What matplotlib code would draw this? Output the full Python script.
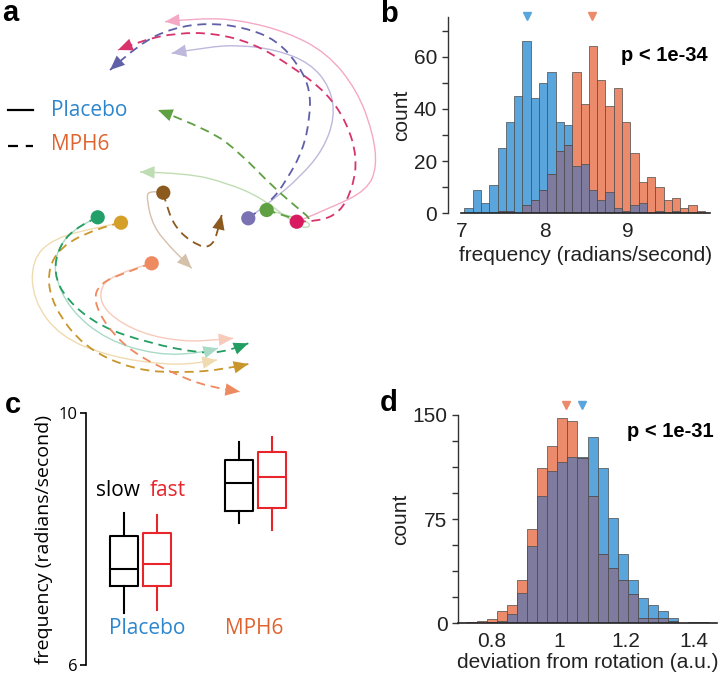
import numpy as np
import matplotlib
matplotlib.use("Agg")
import matplotlib.pyplot as plt
from matplotlib.path import Path
from matplotlib.patches import PathPatch

# ---------------- data ----------------
# panel b: frequency histograms (bins of 0.1 starting at 7.035)
b_bin_start = 7.035
b_bin_width = 0.1
b_placebo = [2, 9, 4, 11, 25, 35, 45, 66, 44, 50, 54, 35, 34, 18, 19, 9, 5, 8, 2, 1, 3, 4, 0, 1, 0, 1, 0, 0, 0]
b_mph6 = [0, 0, 0, 0, 1, 1, 0, 3, 5, 9, 15, 24, 26, 54, 42, 64, 51, 41, 48, 35, 23, 12, 14, 10, 5, 6, 2, 3, 1]
b_median_placebo = 7.79
b_median_mph6 = 8.57
b_ptext = "p < 1e-34"

# panel d: deviation histograms (bins of 0.03 starting at 0.725)
d_bin_start = 0.725
d_bin_width = 0.03
d_placebo = [0, 0, 1, 2, 7, 22, 56, 92, 110, 116, 120, 120, 134, 112, 76, 50, 31, 18, 13, 9, 4, 0, 0, 1]
d_mph6 = [1, 2, 3, 9, 13, 31, 68, 112, 128, 148, 146, 119, 92, 50, 40, 31, 21, 4, 4, 4, 2, 0, 1, 0]
d_median_placebo = 1.07
d_median_mph6 = 1.021
d_ptext = "p < 1e-31"

# panel c: box plot stats (whislo, q1, med, q3, whishi)
c_groups = ["Placebo", "MPH6"]
c_slow = [[6.82, 7.26, 7.52, 8.05, 8.42], [8.26, 8.44, 8.89, 9.26, 9.54]]
c_fast = [[6.88, 7.26, 7.60, 8.10, 8.39], [8.14, 8.50, 8.98, 9.38, 9.62]]

# panel a: trajectories in projected state space (start dot first, arrow tip last)
pink_placebo = [(296.7, 221.7), (333, 207), (367, 190), (377, 167), (373, 133), (357, 90), (327, 53), (287, 32), (240, 20), (200, 18), (165, 21.7)]
crimson_mph6 = [(296.7, 221.7), (316.7, 221.7), (340, 213), (353, 187), (357, 157), (347, 123), (327, 93), (293, 67), (253, 43), (213, 33), (177, 33), (143, 40), (118, 50)]
lavender_placebo = [(248.3, 218.3), (273, 200), (300, 177), (323, 150), (335, 117), (330, 87), (310, 63), (277, 50), (240, 45), (207, 47), (171.7, 53.3)]
slate_mph6 = [(248.3, 218.3), (270, 203), (286.7, 180), (303, 150), (310, 117), (310, 90), (300, 67), (277, 40), (243, 27), (207, 23), (173, 28), (140, 43), (110, 70)]
lightgreen_placebo = [(266.7, 210), (295, 217), (312, 224), (305, 229), (290, 220), (260, 197), (227, 183), (187, 173), (140, 172)]
green_mph6 = [(266.7, 210), (286.7, 216.7), (306.7, 221.7), (310, 218.3), (300, 210), (273, 187), (240, 153), (210, 130), (158, 110)]
lightbrown_placebo = [(163.3, 192.7), (148.3, 190), (146.7, 200), (153.3, 226.7), (170, 246.7), (180, 256.7), (191.7, 268.3)]
brown_mph6 = [(163.3, 192.7), (168.3, 213.3), (180, 233.3), (200, 246.7), (210, 246.7), (216.7, 236.7), (221.7, 215)]
lightteal_placebo = [(97.7, 217.3), (76.7, 226.7), (58.3, 246.7), (53.3, 273.3), (70, 310), (106.7, 340), (156.7, 355), (200, 353.3), (218, 348.3)]
teal_mph6 = [(97.7, 217.3), (80, 225), (60, 243.3), (53.3, 273.3), (66.7, 300), (100, 326.7), (150, 343.3), (200, 353.3), (226.7, 351.7), (248.3, 343.3)]
lightgold_placebo = [(121, 222.7), (100, 226.7), (53.3, 238.3), (31.7, 260), (33, 300), (60, 336.7), (110, 356.7), (166.7, 365), (200, 363), (217, 360)]
gold_mph6 = [(121, 222.7), (96.7, 228.3), (60, 246.7), (46.7, 273.3), (53.3, 306.7), (83.3, 346.7), (133.3, 370), (183.3, 373), (226.7, 369), (248.3, 364)]
lightsalmon_placebo = [(151.7, 263.3), (110, 275), (98.3, 293.3), (106.7, 313.3), (140, 333.3), (183.3, 341.7), (215, 340), (233.3, 338.3)]
salmon_mph6 = [(151.7, 263.3), (123.3, 273.3), (100, 283.3), (93.3, 300), (106.7, 326.7), (133.3, 353.3), (173.3, 373.3), (206.7, 386.7), (240, 391.7)]

# ---------------- styling ----------------
W, H = 720, 677
BLUE = "#5AA6DC"
ORANGE = "#EC8B6C"
OVER = "#7F7B9E"
EDGE = "#4a4a4a"
TXT_BLUE = "#2E86CC"
TXT_ORANGE = "#E0632F"
RED = "#E8252B"
SANS = ["Liberation Sans", "DejaVu Sans"]
MYR = ["Open Sans", "DejaVu Sans"]

fig = plt.figure(figsize=(W / 100, H / 100), dpi=100)


def fx(px):
    return px / W


def fy(py):
    return 1 - py / H


def axes_px(x0, y0, x1, y1):
    return fig.add_axes([fx(x0), fy(y1), fx(x1) - fx(x0), fy(y0) - fy(y1)])


# ---------------- panel a ----------------
axa = axes_px(0, 0, 380, 400)
axa.set_xlim(0, 380)
axa.set_ylim(400, 0)
axa.axis("off")


def smooth_path(pts):
    pts = np.asarray(pts, float)
    verts = [pts[0]]
    codes = [Path.MOVETO]
    n = len(pts)
    for i in range(1, n - 1):
        end = (pts[i] + pts[i + 1]) / 2 if i < n - 2 else pts[i + 1]
        verts += [pts[i], end]
        codes += [Path.CURVE3, Path.CURVE3]
    return Path(verts, codes)


def traj(pts, color, dashed):
    ls = (0, (5, 3.2)) if dashed else "-"
    lw = 1.3 if dashed else 1.0
    axa.add_patch(PathPatch(smooth_path(pts), fill=False, edgecolor=color, lw=lw,
                            linestyle=ls, capstyle="butt"))
    tip = pts[-1]
    prev = pts[-2]
    axa.annotate("", xy=tip, xytext=prev,
                 arrowprops=dict(arrowstyle="-|>,head_length=0.75,head_width=0.32",
                                 color=color, lw=0, shrinkA=0, shrinkB=0,
                                 mutation_scale=14))


traj(pink_placebo, "#F4A8C6", False)
traj(lavender_placebo, "#BDB8DC", False)
traj(lightgreen_placebo, "#BFDDB2", False)
traj(lightbrown_placebo, "#D5C0AA", False)
traj(lightgold_placebo, "#F0DBB0", False)
traj(lightteal_placebo, "#A8DAC6", False)
traj(lightsalmon_placebo, "#F8CABA", False)
traj(crimson_mph6, "#D8336D", True)
traj(slate_mph6, "#5F60A8", True)
traj(green_mph6, "#5FA042", True)
traj(brown_mph6, "#8C5A1E", True)
traj(gold_mph6, "#C8962A", True)
traj(teal_mph6, "#239E62", True)
traj(salmon_mph6, "#EE8A60", True)

dots_x = [crimson_mph6[0][0], slate_mph6[0][0], green_mph6[0][0], brown_mph6[0][0],
          teal_mph6[0][0], gold_mph6[0][0], salmon_mph6[0][0]]
dots_y = [crimson_mph6[0][1], slate_mph6[0][1], green_mph6[0][1], brown_mph6[0][1],
          teal_mph6[0][1], gold_mph6[0][1], salmon_mph6[0][1]]
dots_c = ["#D81B60", "#7B72B4", "#5FA042", "#8C5A1E", "#23A06A", "#D4A02A", "#EE8A60"]
axa.scatter(dots_x, dots_y, s=105, c=dots_c, zorder=5, linewidths=0)

# legend of panel a
axa.plot([8, 33], [110, 110], color="black", lw=1.6)
axa.plot([8, 33], [145.5, 145.5], color="black", lw=1.6, linestyle=(0, (4.5, 3.5)))
axa.text(51, 110, "Placebo", color=TXT_BLUE, fontsize=15, family=MYR, va="center", ha="left")
axa.text(51, 144, "MPH6", color=TXT_ORANGE, fontsize=15, family=MYR, va="center", ha="left")


# ---------------- histogram helper ----------------
def hist_panel(ax, start, width, plac, mph, med_p, med_m, ymark):
    plac = np.asarray(plac, float)
    mph = np.asarray(mph, float)
    edges = start + width * np.arange(len(plac))
    over = np.minimum(plac, mph)
    kw = dict(width=width, align="edge", edgecolor=EDGE, linewidth=0.5)
    ax.bar(edges, plac, color=BLUE, **kw)
    ax.bar(edges, mph, color=ORANGE, **kw)
    ax.bar(edges, over, color=OVER, **kw)
    ax.plot([med_p], [ymark], marker="v", color=BLUE, ms=5.5, clip_on=False, lw=0)
    ax.plot([med_m], [ymark], marker="v", color=ORANGE, ms=5.5, clip_on=False, lw=0)
    for s in ["top", "right"]:
        ax.spines[s].set_visible(False)
    ax.spines["left"].set_color("#333333")
    ax.spines["bottom"].set_color("#222222")
    ax.spines["left"].set_linewidth(1.0)
    ax.spines["bottom"].set_linewidth(1.2)
    ax.tick_params(axis="x", length=0, labelsize=15, pad=6, labelcolor="#222222")
    ax.tick_params(axis="y", which="both", direction="out", length=4, width=1,
                   labelsize=15, color="#333333", labelcolor="#222222")


# ---------------- panel b ----------------
axb = axes_px(461.5, 16.7, 710, 213.3)
hist_panel(axb, b_bin_start, b_bin_width, b_placebo, b_mph6, b_median_placebo, b_median_mph6, 75.5)
axb.set_xlim(7.0, 9.995)
axb.set_ylim(0, 75.3)
axb.spines["left"].set_position(("outward", 10))
axb.set_xticks([7, 8, 9])
axb.set_yticks([0, 20, 40, 60])
axb.set_yticks([10, 30, 50, 70], minor=True)
for lab in axb.get_xticklabels() + axb.get_yticklabels():
    lab.set_family(SANS)
axb.set_xlabel("frequency (radians/second)", fontsize=15, family=SANS, labelpad=4, color="#222222")
axb.set_ylabel("count", fontsize=15, family=SANS, labelpad=2, color="#222222")
axb.text(9.97, 60.5, b_ptext, fontsize=14.5, fontweight="bold", family=SANS, ha="right", va="center")

# ---------------- panel d ----------------
axd = axes_px(458, 415, 717, 623.3)
hist_panel(axd, d_bin_start, d_bin_width, d_placebo, d_mph6, d_median_placebo, d_median_mph6, 157)
axd.set_xlim(0.70, 1.47)
axd.set_ylim(0, 150)
axd.set_xticks([0.8, 1.0, 1.2, 1.4])
axd.set_xticklabels(["0.8", "1", "1.2", "1.4"])
axd.set_yticks([0, 75, 150])
axd.set_yticks([18.75, 37.5, 56.25, 93.75, 112.5, 131.25], minor=True)
for lab in axd.get_xticklabels() + axd.get_yticklabels():
    lab.set_family(SANS)
axd.set_xlabel("deviation from rotation (a.u.)", fontsize=15, family=SANS, labelpad=2, color="#222222")
axd.set_ylabel("count", fontsize=15, family=SANS, labelpad=2, color="#222222")
axd.text(1.46, 138, d_ptext, fontsize=14.5, fontweight="bold", family=SANS, ha="right", va="center")

# ---------------- panel c ----------------
axc = axes_px(86, 413.3, 330, 665)
axc.set_xlim(86, 330)
axc.set_ylim(6, 10)
c_pos_slow = [124, 239]
c_pos_fast = [157, 272]


def stats(vals):
    return [dict(whislo=v[0], q1=v[1], med=v[2], q3=v[3], whishi=v[4], fliers=[]) for v in vals]


for vals, pos, col in [(c_slow, c_pos_slow, "black"), (c_fast, c_pos_fast, RED)]:
    lp = dict(color=col, linewidth=1.5)
    axc.bxp(stats(vals), positions=pos, widths=28.5, showcaps=False, showfliers=False,
            boxprops=lp, whiskerprops=lp, medianprops=lp, manage_ticks=False)
for s in ["top", "right", "bottom"]:
    axc.spines[s].set_visible(False)
axc.spines["left"].set_linewidth(1.2)
axc.set_xticks([])
axc.set_yticks([6, 10])
axc.tick_params(axis="y", length=4, width=1.2, labelsize=12, pad=2)
for lab in axc.get_yticklabels():
    lab.set_family(MYR)
axc.set_ylabel("frequency (radians/second)", fontsize=14, family=MYR, labelpad=4)

fig.text(fx(118), fy(491), "slow", fontsize=15, family=MYR, ha="center", va="center", color="black")
fig.text(fx(168), fy(491), "fast", fontsize=15, family=MYR, ha="center", va="center", color=RED)
fig.text(fx(147), fy(629), c_groups[0], fontsize=15, family=MYR, ha="center", va="center", color=TXT_BLUE)
fig.text(fx(254), fy(629), c_groups[1], fontsize=15, family=MYR, ha="center", va="center", color=TXT_ORANGE)

# ---------------- panel letters ----------------
for letter, x, y in [("a", 10, 13), ("b", 389, 14), ("c", 13, 405), ("d", 389, 403)]:
    fig.text(fx(x), fy(y), letter, fontsize=21, fontweight="bold", family=SANS, ha="center", va="center")

fig.savefig("out.png", dpi=100)
